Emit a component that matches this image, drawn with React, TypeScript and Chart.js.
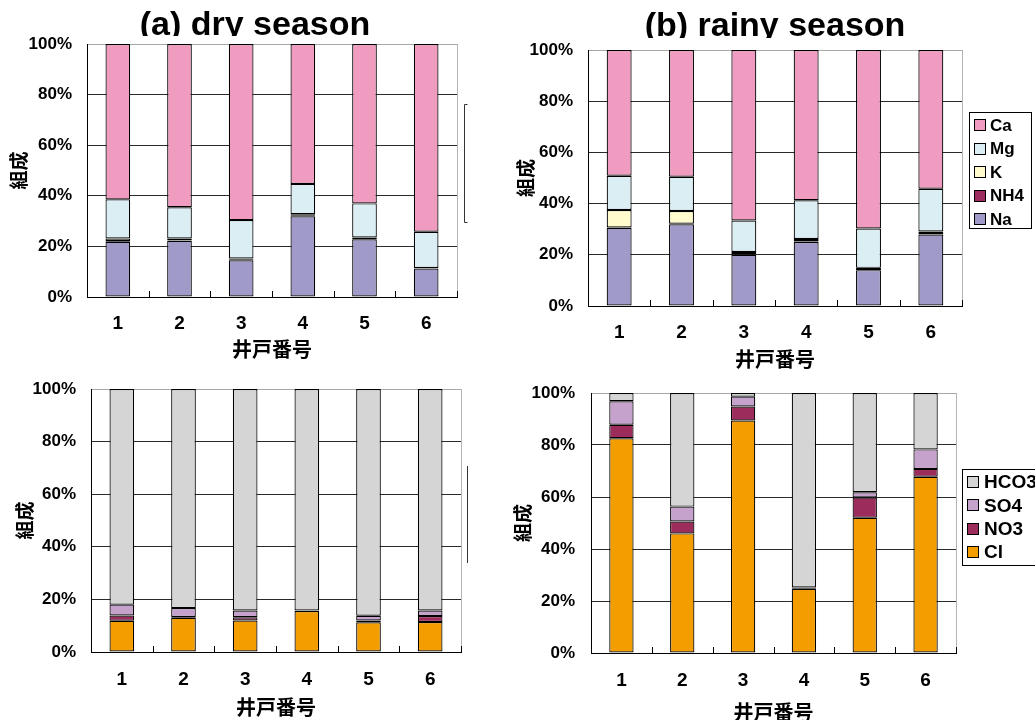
import React, { useEffect, useRef } from 'react';
import { Chart, registerables } from 'chart.js';

Chart.register(...registerables);

// ---------- data ----------
const wells = ['1', '2', '3', '4', '5', '6'];
const percentTicks = [0, 20, 40, 60, 80, 100];

const cationNames = ['Na', 'NH4', 'K', 'Mg', 'Ca'];
const cationColors = ['#A09AC8', '#9B2D5F', '#FFFBCC', '#DAEEF3', '#F09BC0'];
const anionNames = ['Cl', 'NO3', 'SO4', 'HCO3'];
const anionColors = ['#F39D00', '#9C2C5C', '#C4A2CC', '#D4D5D4'];

// (a) dry season, cations (%)
const dryNa = [21.8, 22.2, 14.5, 31.9, 22.8, 11.2];
const dryNH4 = [0.3, 0.2, 0.2, 0.2, 0.5, 0.1];
const dryK = [1.0, 0.7, 0.5, 0.6, 0.2, 0.2];
const dryMg = [15.5, 12.4, 15.2, 12.0, 13.5, 14.3];
const dryCa = [61.4, 64.5, 69.6, 55.3, 63.0, 74.2];

// (b) rainy season, cations (%)
const rainNa = [30.5, 31.9, 20.0, 25.0, 14.0, 27.9];
const rainNH4 = [0.2, 0.2, 0.2, 0.2, 0.5, 0.2];
const rainK = [6.8, 5.0, 0.9, 1.0, 0.4, 1.0];
const rainMg = [13.4, 13.4, 12.3, 15.1, 15.4, 16.7];
const rainCa = [49.1, 49.5, 66.6, 58.7, 69.7, 54.2];

// dry season, anions (%)
const dryCl = [11.9, 13.0, 12.0, 15.6, 11.3, 11.4];
const dryNO3 = [2.0, 0.3, 1.2, 0.1, 0.7, 2.3];
const drySO4 = [4.1, 3.4, 2.6, 0.1, 1.8, 2.1];
const dryHCO3 = [82.0, 83.3, 84.2, 84.2, 86.2, 84.2];

// rainy season, anions (%)
const rainCl = [82.6, 46.0, 89.4, 24.7, 52.0, 67.8];
const rainNO3 = [5.2, 4.6, 5.4, 0.3, 7.8, 3.0];
const rainSO4 = [9.0, 5.7, 3.8, 0.2, 2.0, 7.5];
const rainHCO3 = [3.2, 43.7, 1.4, 74.8, 38.2, 21.7];

const titleA = '(a) dry season';
const titleB = '(b) rainy season';
const xAxisTitle = '井戸番号';
const yAxisTitle = '組成';

// ---------- styling ----------
const LATIN = "'Liberation Sans', Arial, Helvetica, sans-serif";
const CJK = "'Noto Sans CJK JP', 'Noto Sans CJK SC', sans-serif";

const decorPlugin = {
  id: 'decor',
  afterDraw(chart: any, _args: any, opts: any) {
    const ctx = chart.ctx as CanvasRenderingContext2D;
    const { right, top, bottom } = chart.chartArea;
    const xs = chart.scales.x;
    ctx.save();
    // right border of plot
    ctx.strokeStyle = '#b4b4b4';
    ctx.lineWidth = 1;
    ctx.beginPath();
    ctx.moveTo(Math.round(right) + 0.5, top);
    ctx.lineTo(Math.round(right) + 0.5, bottom);
    ctx.stroke();
    // inner tick marks at category boundaries
    const n = chart.data.labels.length;
    const c0 = xs.getPixelForValue(0);
    const c1 = xs.getPixelForValue(1);
    const step = c1 - c0;
    ctx.strokeStyle = '#000';
    for (let i = 0; i <= n; i++) {
      const px = Math.round(c0 - step / 2 + i * step) + 0.5;
      ctx.beginPath();
      ctx.moveTo(px, bottom);
      ctx.lineTo(px, bottom - 6);
      ctx.stroke();
    }
    // legend
    const lg = opts && opts.legend;
    if (lg) {
      ctx.fillStyle = '#fff';
      ctx.fillRect(lg.x, lg.y, lg.w, lg.h);
      ctx.strokeStyle = '#000';
      ctx.strokeRect(lg.x + 0.5, lg.y + 0.5, lg.w, lg.h);
      const ds = chart.data.datasets.slice().reverse();
      ctx.font = `bold ${lg.fontSize}px ${LATIN}`;
      ctx.textBaseline = 'middle';
      ds.forEach((d: any, i: number) => {
        const cy = lg.firstY + i * lg.rowH;
        ctx.fillStyle = d.backgroundColor;
        ctx.fillRect(lg.swX, Math.round(cy - lg.sw / 2), lg.sw, lg.sw);
        ctx.strokeStyle = '#000';
        ctx.strokeRect(lg.swX + 0.5, Math.round(cy - lg.sw / 2) + 0.5, lg.sw - 1, lg.sw - 1);
        ctx.fillStyle = '#000';
        ctx.fillText(d.label, lg.textX, cy + 1);
      });
    }
    // remnant bracket of an old legend frame
    const br = opts && opts.bracket;
    if (br) {
      ctx.strokeStyle = '#333';
      ctx.beginPath();
      if (br.ticks) {
        ctx.moveTo(br.x + 3.5, br.y1 + 0.5);
        ctx.lineTo(br.x + 0.5, br.y1 + 0.5);
        ctx.lineTo(br.x + 0.5, br.y2 + 0.5);
        ctx.lineTo(br.x + 3.5, br.y2 + 0.5);
      } else {
        ctx.moveTo(br.x + 0.5, br.y1);
        ctx.lineTo(br.x + 0.5, br.y2);
      }
      ctx.stroke();
    }
    ctx.restore();
  },
};

type PanelProps = {
  left: number;
  top: number;
  width: number;
  height: number;
  plot: { l: number; r: number; t: number; b: number };
  names: string[];
  colors: string[];
  series: number[][];
  padLeft: number;
  xTickPad: number;
  yTickPad: number;
  legend?: any;
  bracket?: any;
};

function Panel(p: PanelProps) {
  const ref = useRef<HTMLCanvasElement>(null);
  useEffect(() => {
    const chart = new Chart(ref.current as HTMLCanvasElement, {
      type: 'bar',
      data: {
        labels: wells,
        datasets: p.series.map((s, i) => ({
          label: p.names[i],
          data: s,
          backgroundColor: p.colors[i],
          borderColor: '#000',
          borderWidth: 1.2,
          borderSkipped: false,
          barPercentage: 0.4,
          categoryPercentage: 1,
        })),
      },
      options: {
        responsive: false,
        animation: false,
        devicePixelRatio: 1,
        events: [],
        layout: {
          padding: { left: p.padLeft, right: p.width - p.plot.r, top: p.plot.t, bottom: 0 },
        },
        plugins: {
          legend: { display: false },
          tooltip: { enabled: false },
          title: { display: false },
          decor: { legend: p.legend, bracket: p.bracket },
        } as any,
        scales: {
          x: {
            stacked: true,
            grid: { display: true, drawOnChartArea: false, drawTicks: false },
            border: { display: true, color: '#000', width: 1 },
            ticks: {
              padding: p.xTickPad,
              color: '#000',
              font: { family: LATIN, size: 19, weight: 'bold', lineHeight: 1.2 },
            },
            title: {
              display: true,
              text: xAxisTitle,
              color: '#000',
              font: { family: CJK, size: 20, weight: 'bold', lineHeight: 1.2 },
              padding: { top: 0, bottom: 1 },
            },
            afterFit: (s: any) => {
              s.height = p.height - p.plot.b;
            },
          },
          y: {
            stacked: true,
            min: 0,
            max: 100,
            afterBuildTicks: (s: any) => {
              s.ticks = percentTicks.map((v) => ({ value: v }));
            },
            ticks: {
              padding: p.yTickPad,
              color: '#000',
              font: { family: LATIN, size: 17, weight: 'bold', lineHeight: 1.2 },
              callback: (v: any) => v + '%',
            },
            grid: {
              drawTicks: false,
              color: (c: any) => (c.tick && c.tick.value === 100 ? '#a8a8a8' : '#2a2a2a'),
            },
            border: { display: true, color: '#000', width: 1 },
            title: {
              display: true,
              text: yAxisTitle,
              color: '#000',
              font: { family: CJK, size: 19, weight: 'bold', lineHeight: 1.2 },
              padding: { top: 0, bottom: 0 },
            },
            afterFit: (s: any) => {
              s.width = p.plot.l - p.padLeft;
            },
          },
        } as any,
      },
      plugins: [decorPlugin],
    });
    return () => chart.destroy();
  }, []);
  return (
    <canvas
      ref={ref}
      width={p.width}
      height={p.height}
      style={{
        position: 'absolute',
        left: p.left,
        top: p.top,
        width: p.width,
        height: p.height,
        display: 'block',
      }}
    />
  );
}

function Title({ text, center, top, height }: { text: string; center: number; top: number; height: number }) {
  return (
    <div
      style={{
        position: 'absolute',
        left: center - 200,
        top,
        width: 400,
        height,
        overflow: 'hidden',
        textAlign: 'center',
        fontFamily: LATIN,
        fontWeight: 'bold',
        fontSize: 34,
        lineHeight: '38px',
        color: '#000',
        whiteSpace: 'nowrap',
      }}
    >
      {text}
    </div>
  );
}

export default function App() {
  return (
    <div
      style={{
        position: 'absolute',
        left: 0,
        top: 0,
        width: 1035,
        height: 720,
        overflow: 'hidden',
        background: '#fff',
      }}
    >
      <Panel
        left={0}
        top={0}
        width={500}
        height={362}
        plot={{ l: 87, r: 457, t: 44, b: 297 }}
        names={cationNames}
        colors={cationColors}
        series={[dryNa, dryNH4, dryK, dryMg, dryCa]}
        padLeft={7.6}
        xTickPad={15}
        yTickPad={15}
        bracket={{ x: 464, y1: 104, y2: 222, ticks: true }}
      />
      <Panel
        left={500}
        top={0}
        width={535}
        height={372}
        plot={{ l: 88, r: 462, t: 50, b: 306 }}
        names={cationNames}
        colors={cationColors}
        series={[rainNa, rainNH4, rainK, rainMg, rainCa]}
        padLeft={14.6}
        xTickPad={15}
        yTickPad={15}
        legend={{ x: 469, y: 112, w: 62, h: 116, firstY: 125, rowH: 23.6, sw: 12, swX: 474, textX: 490, fontSize: 17 }}
      />
      <Panel
        left={0}
        top={362}
        width={500}
        height={358}
        plot={{ l: 91, r: 461, t: 27, b: 290 }}
        names={anionNames}
        colors={anionColors}
        series={[dryCl, dryNO3, drySO4, dryHCO3]}
        padLeft={13.6}
        xTickPad={16}
        yTickPad={15}
        bracket={{ x: 467, y1: 104, y2: 201, ticks: false }}
      />
      <Panel
        left={500}
        top={366}
        width={535}
        height={359}
        plot={{ l: 91, r: 456, t: 27, b: 287 }}
        names={anionNames}
        colors={anionColors}
        series={[rainCl, rainNO3, rainSO4, rainHCO3]}
        padLeft={11.6}
        xTickPad={16}
        yTickPad={16}
        legend={{ x: 462, y: 103, w: 100, h: 96, firstY: 116, rowH: 23.3, sw: 12, swX: 467, textX: 484, fontSize: 19 }}
      />
      <Title text={titleA} center={255} top={4} height={32} />
      <Title text={titleB} center={775} top={5} height={33} />
    </div>
  );
}
